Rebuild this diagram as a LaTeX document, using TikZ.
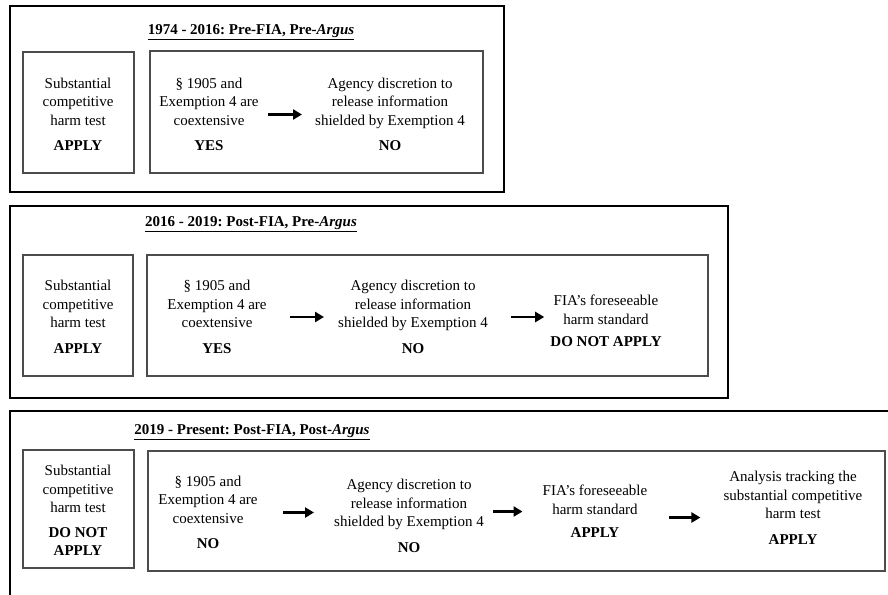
\documentclass[tikz,border=0pt]{standalone}
\usepackage{fontspec}
\setmainfont{Liberation Serif}
\usetikzlibrary{positioning, arrows.meta}
\frenchspacing

\begin{document}
\begin{tikzpicture}[x=1pt, y=-1pt, node distance=130pt, on grid,
		txt/.style={align=center, inner sep=0pt, font=\fontsize{15}{18.5}\selectfont},
		title/.style={inner sep=0pt, font=\fontsize{15}{18}\selectfont\bfseries},
		frame/.style={line width=2.2pt},
		box/.style={line width=1.1pt, draw=black!70},
		flow/.style={line width=2.3pt, -{Triangle[length=9pt, width=10pt]}}]
			\useasboundingbox (0,0) rectangle (888,594);

			% frames
			\draw[frame] (10,6) rectangle (504,192);
			\draw[box] (23,52) rectangle (134,173);
			\draw[box] (150,51) rectangle (483,173);
			\draw[frame] (10,206) rectangle (728,398);
			\draw[box] (23,255) rectangle (133,376);
			\draw[box] (147,255) rectangle (708,376);
			\draw[frame] (900,411) -- (10,411) -- (10,600);
			\draw[box] (23,450) rectangle (134,568);
			\draw[box] (148,451) rectangle (885,571);

			% 1974 - 2016
			\node[title] (t1) at (251,32) {\underline{1974 - 2016: Pre-FIA, Pre-\textit{Argus}}};
			\node[txt] (s1) at (78,114.5) {Substantial\\competitive\\harm test\\[7pt]\textbf{APPLY}};
			\node[txt, right=131pt of s1] (c1) {§ 1905 and\\Exemption 4 are\\coextensive\\[7pt]\textbf{YES}};
			\node[txt, right=181pt of c1] (a1) {Agency discretion to\\release information\\shielded by Exemption 4\\[7pt]\textbf{NO}};

			% 2016 - 2019
			\node[title] (t2) at (251,224) {\underline{2016 - 2019: Post-FIA, Pre-\textit{Argus}}};
			\node[txt, below=202.5pt of s1] (s2) {Substantial\\competitive\\harm test\\[7pt]\textbf{APPLY}};
			\node[txt, right=139pt of s2] (c2) {§ 1905 and\\Exemption 4 are\\coextensive\\[7pt]\textbf{YES}};
			\node[txt, right=196pt of c2] (a2) {Agency discretion to\\release information\\shielded by Exemption 4\\[7pt]\textbf{NO}};
			\node[txt, right=193pt of a2, yshift=-4pt] (f2) {FIA's foreseeable\\harm standard\\[4pt]\textbf{DO NOT APPLY}};

			% 2019 - present
			\node[title] (t3) at (252,432) {\underline{2019 - Present: Post-FIA, Post-\textit{Argus}}};
			\node[txt, below=193.5pt of s2] (s3) {Substantial\\competitive\\harm test\\[6pt]\textbf{DO NOT}\\\textbf{APPLY}};
			\node[txt, right=130pt of s3, yshift=-2pt] (c3) {§ 1905 and\\Exemption 4 are\\coextensive\\[7pt]\textbf{NO}};
			\node[txt, right=201pt of c3, yshift=-3.5pt] (a3) {Agency discretion to\\release information\\shielded by Exemption 4\\[7pt]\textbf{NO}};
			\node[txt, right=186pt of a3, yshift=4.5pt] (f3) {FIA's foreseeable\\harm standard\\[5pt]\textbf{APPLY}};
			\node[txt, right=198pt of f3, yshift=3.5pt] (an3) {Analysis tracking the\\substantial competitive\\harm test\\[7pt]\textbf{APPLY}};

			\draw[flow, shorten <=9pt, shorten >=13pt] (c1.east) -- (c1.east -| a1.west);
			\draw[flow, shorten <=23.5pt, shorten >=14pt] (c2.east) -- (c2.east -| a2.west);
			\draw[flow, shorten <=23pt, shorten >=6pt] (a2.east) -- (a2.east -| f2.west);
			\draw[flow, shorten <=25.5pt, shorten >=20pt] (c3.east) -- (c3.east -| a3.west);
			\draw[flow, shorten <=9pt, shorten >=20pt] (f3.west -| a3.east) -- (f3.west);
			\draw[flow, shorten <=22pt, shorten >=23pt, transform canvas={yshift=-6pt}] (f3.east) -- (f3.east -| an3.west);

		\end{tikzpicture}
\end{document}
